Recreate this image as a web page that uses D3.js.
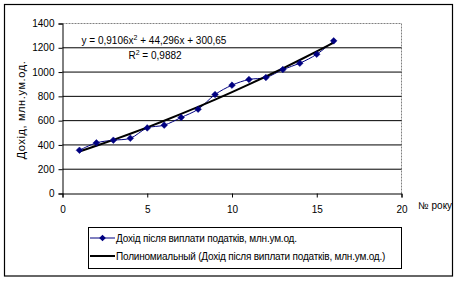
<!DOCTYPE html>
<html><head><meta charset="utf-8">
<script src="https://cdn.jsdelivr.net/npm/d3@7"></script>
<style>body{margin:0;background:#fff}svg{display:block}text{font-family:"Liberation Sans",Arial,sans-serif;fill:#000}</style>
</head><body>
<script>
const years = [1,2,3,4,5,6,7,8,9,10,11,12,13,14,15,16];
const income = [356,417,439,455,540,563,626,694,815,892,939,955,1021,1073,1147,1257];
const trendCoef = [0.9106, 44.296, 300.65]; // a*x^2 + b*x + c
const xTicks = [0,5,10,15,20];
const yTicks = [0,200,400,600,800,1000,1200,1400];
const seriesName = "Дохід після виплати податків, млн.ум.од.";
const trendName = "Полиномиальный (Дохід після виплати податків, млн.ум.од.)";

const W=458,H=283;
const svg=d3.select("body").append("svg").attr("width",W).attr("height",H);
svg.append("rect").attr("x",4.5).attr("y",4.5).attr("width",448).attr("height",271.5).attr("fill","#fff").attr("stroke","#000").attr("stroke-width",1.2);

const x=d3.scaleLinear().domain([0,20]).range([62.5,401.5]);
const y=d3.scaleLinear().domain([0,1400]).range([193.5,23.5]);

// plot area border (dashed gray top/right)
svg.append("path").attr("d",`M${x(0)},${y(1400)}H${x(20)}V${y(0)}`).attr("fill","none").attr("stroke","#808080").attr("stroke-dasharray","2,1");

// gridlines
svg.append("g").selectAll("line").data(yTicks.filter(d=>d>0&&d<1400)).join("line")
  .attr("x1",x(0)).attr("x2",x(20)).attr("y1",d=>y(d)).attr("y2",d=>y(d)).attr("stroke","#000");

const xa=svg.append("g").attr("transform",`translate(0,${y(0)})`).call(d3.axisBottom(x).tickValues(xTicks).tickSize(4).tickPadding(8).tickFormat(d3.format("d")));
const ya=svg.append("g").attr("transform",`translate(${x(0)},0)`).call(d3.axisLeft(y).tickValues(yTicks).tickSize(4).tickPadding(4).tickFormat(d3.format("d")));
[xa,ya].forEach(a=>{a.select(".domain").attr("stroke","#000");a.selectAll(".tick line").attr("stroke","#000");a.selectAll("text").attr("font-size",10).attr("font-family","Liberation Sans, Arial, sans-serif").attr("fill","#000");});

// y title
svg.append("text").attr("transform",`translate(25,110) rotate(-90)`).attr("text-anchor","middle").attr("font-size",11).attr("letter-spacing",0.6).text("Дохід, млн.ум.од.");
svg.append("text").attr("x",418).attr("y",209).attr("font-size",10).text("№ року");

// data line (smoothed)
const pts=years.map((v,i)=>[v,income[i]]);
svg.append("path").datum(pts).attr("fill","none").attr("stroke","#000080").attr("stroke-width",1)
  .attr("d",d3.line().x(d=>x(d[0])).y(d=>y(d[1])).curve(d3.curveCatmullRom.alpha(0.5)));

// trendline
const tpts=years.map(v=>[v,trendCoef[0]*v*v+trendCoef[1]*v+trendCoef[2]]);
svg.append("path").datum(tpts).attr("fill","none").attr("stroke","#000").attr("stroke-width",2)
  .attr("d",d3.line().x(d=>x(d[0])).y(d=>y(d[1])));

// markers
const diamond=d3.symbol().type(d3.symbolDiamond2).size(28);
svg.append("g").selectAll("path").data(pts).join("path").attr("d",diamond)
  .attr("transform",d=>`translate(${x(d[0])},${y(d[1])})`).attr("fill","#000080").attr("stroke","#000080").attr("stroke-width",0.5);

// equation
const eq=svg.append("text").attr("x",154).attr("y",44).attr("text-anchor","middle").attr("font-size",10);
eq.append("tspan").text("y = 0,9106x");
eq.append("tspan").attr("font-size",7).attr("dy",-4).text("2");
eq.append("tspan").attr("dy",4).text(" + 44,296x + 300,65");
const r2=svg.append("text").attr("x",155).attr("y",59).attr("text-anchor","middle").attr("font-size",10);
r2.append("tspan").text("R");
r2.append("tspan").attr("font-size",7).attr("dy",-4).text("2");
r2.append("tspan").attr("dy",4).text(" = 0,9882");

// legend
const lg=svg.append("g");
lg.append("rect").attr("x",88.5).attr("y",227.5).attr("width",313).attr("height",41).attr("fill","#fff").attr("stroke","#000");
lg.append("line").attr("x1",90).attr("x2",115).attr("y1",238).attr("y2",238).attr("stroke","#000080");
lg.append("path").attr("d",diamond).attr("transform","translate(102.5,238)").attr("fill","#000080");
lg.append("text").attr("x",116).attr("y",241.5).attr("font-size",10).attr("letter-spacing",-0.2).text(seriesName);
lg.append("line").attr("x1",90).attr("x2",115).attr("y1",256).attr("y2",256).attr("stroke","#000").attr("stroke-width",2);
lg.append("text").attr("x",116).attr("y",259.5).attr("font-size",10).attr("letter-spacing",-0.2).text(trendName);
</script>
</body></html>
